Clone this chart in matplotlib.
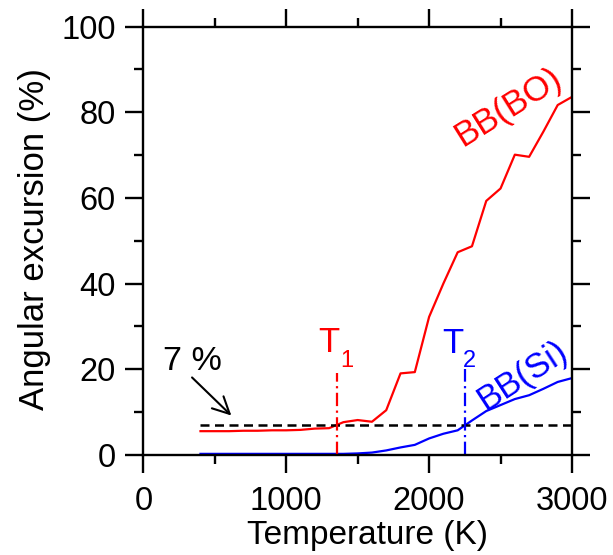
import matplotlib
matplotlib.use("Agg")
import matplotlib.pyplot as plt
from matplotlib.ticker import MultipleLocator

plt.rcParams['font.family'] = ['Liberation Sans', 'DejaVu Sans']

# Data
temp = [400, 500, 600, 700, 800, 900, 1000, 1100, 1200, 1300, 1400, 1500, 1600,
        1700, 1800, 1900, 2000, 2100, 2200, 2300, 2400, 2500, 2600, 2700, 2800,
        2900, 3000]
bb_bo = [5.5, 5.5, 5.5, 5.6, 5.6, 5.7, 5.7, 5.8, 6.1, 6.2, 7.6, 8.1, 7.7,
         10.4, 19.0, 19.3, 32.2, 40.0, 47.3, 48.7, 59.3, 62.2, 70.1, 69.6, 75.5,
         81.7, 83.6]
bb_si = [0.2, 0.2, 0.2, 0.2, 0.2, 0.2, 0.2, 0.2, 0.2, 0.2, 0.2, 0.3, 0.5,
         1.0, 1.7, 2.3, 3.8, 4.9, 5.7, 8.0, 10.2, 11.6, 13.0, 13.9, 15.4,
         17.0, 17.9]
threshold = 7
t1 = 1352
t2 = 2250

fig = plt.figure(figsize=(6.13, 5.55), dpi=100)
ax = fig.add_axes([0.2338, 0.1807, 0.6993, 0.7712])

ax.plot(temp, bb_bo, color='#ff0000', lw=1.6)
ax.plot(temp, bb_si, color='#0000ff', lw=1.6)
ax.plot([temp[0], 3000], [threshold, threshold], color='k', lw=1.8, dashes=(3.6, 2.2))
ax.plot([t1, t1], [0, 19], color='#ff0000', lw=1.6, dashes=(6, 2, 1, 2))
ax.plot([t2, t2], [0, 20], color='#0000ff', lw=1.6, dashes=(6, 2, 1, 2))

ax.set_xlim(0, 3000)
ax.set_ylim(0, 100)
ax.xaxis.set_major_locator(MultipleLocator(1000))
ax.xaxis.set_minor_locator(MultipleLocator(500))
ax.yaxis.set_major_locator(MultipleLocator(20))
ax.yaxis.set_minor_locator(MultipleLocator(10))

for s in ax.spines.values():
    s.set_linewidth(1.7)
ax.tick_params(which='both', direction='out', top=True, right=True,
               width=1.7, labelsize=23.5)
ax.tick_params(which='major', length=13)
ax.tick_params(which='minor', length=6.5)
ax.tick_params(axis='x', which='major', pad=9.5)
ax.tick_params(axis='y', which='major', pad=7)

ax.set_xlabel('Temperature (K)', fontsize=24)
ax.set_ylabel('Angular excursion (%)', fontsize=25)
ax.xaxis.set_label_coords(0.524, -0.1526)
ax.yaxis.set_label_coords(-0.216, 0.504)

ax.text(341, 19.8, '7 %', fontsize=24.5, ha='center', va='baseline')
ax.annotate('', xy=(630, 8.7), xytext=(327, 18.5),
            arrowprops=dict(arrowstyle='->', lw=1.5, color='k', mutation_scale=30))

ax.text(1222, 24.0, 'T', fontsize=25, color='#ff0000', ha='left', va='baseline')
ax.text(1377, 20.6, '1', fontsize=17, color='#ff0000', ha='left', va='baseline')
ax.text(2093, 23.7, 'T', fontsize=25, color='#0000ff', ha='left', va='baseline')
ax.text(2237, 20.6, '2', fontsize=17, color='#0000ff', ha='left', va='baseline')

ax.text(2555, 81.2, 'BB(BO)', fontsize=25, color='#ff0000', rotation=32,
        ha='center', va='center', rotation_mode='anchor')
ax.text(2655, 18.4, 'BB(Si)', fontsize=25, color='#0000ff', rotation=33,
        ha='center', va='center', rotation_mode='anchor')

fig.savefig('out.png', dpi=100)
